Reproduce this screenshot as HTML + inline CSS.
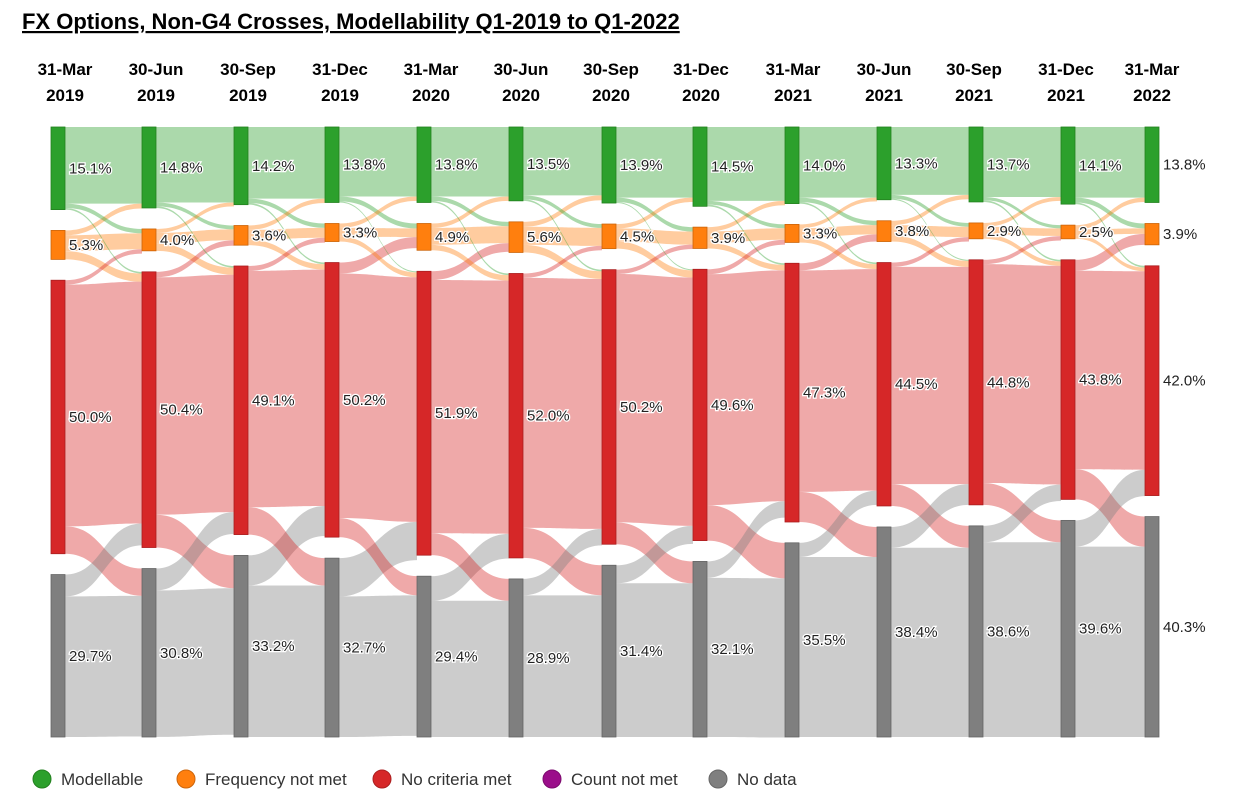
<!DOCTYPE html>
<html><head><meta charset="utf-8"><style>
body{margin:0;background:#fff;width:1250px;height:808px;overflow:hidden;font-family:"Liberation Sans",sans-serif}
svg{display:block}
</style></head><body>
<svg id="chart" width="1250" height="808" viewBox="0 0 1250 808">
<text x="22" y="29" font-size="22" font-weight="bold" fill="#000" text-decoration="underline">FX Options, Non-G4 Crosses, Modellability Q1-2019 to Q1-2022</text>
<g id="heads"></g><g id="links"></g><g id="nodes"></g><g id="labels"></g><g id="legend"></g>
</svg>
<script>
const dates=["31-Mar","30-Jun","30-Sep","31-Dec","31-Mar","30-Jun","30-Sep","31-Dec","31-Mar","30-Jun","30-Sep","31-Dec","31-Mar"];
const years=["2019","2019","2019","2019","2020","2020","2020","2020","2021","2021","2021","2021","2022"];
const modellable=[15.1,14.8,14.2,13.8,13.8,13.5,13.9,14.5,14.0,13.3,13.7,14.1,13.8];
const freqNotMet=[5.3,4.0,3.6,3.3,4.9,5.6,4.5,3.9,3.3,3.8,2.9,2.5,3.9];
const noCriteria=[50.0,50.4,49.1,50.2,51.9,52.0,50.2,49.6,47.3,44.5,44.8,43.8,42.0];
const countNotMet=[0,0,0,0,0,0,0,0,0,0,0,0,0];
const noData=[29.7,30.8,33.2,32.7,29.4,28.9,31.4,32.1,35.5,38.4,38.6,39.6,40.3];
// cross flows per period (%)
const redToGrey=[5,6,5,3.5,4,5.5,4,6.5,5.5,4,4,5.5];
const greyToRed=[4,4,5.5,7,4.5,3,3.3,3,2.6,3.8,3,4.8];
const greenToOrange=[0.8,0.7,0.8,0.9,0.8,0.7,0.8,0.7,0.8,0.7,0.6,0.9];
const orangeToGreen=[0.9,0.7,0.8,0.8,0.8,0.9,0.8,0.8,0.7,0.8,0.7,0.8];
const orangeToRed=[1.5,1.3,1.0,0.9,1.0,1.4,1.3,1.0,0.9,1.1,0.8,0.7];
const redToOrange=[0.8,1.0,0.9,2.0,1.6,0.8,0.8,0.9,1.3,0.8,0.8,2.0];
const greenToRed=[0.3,0.3,0.3,0.2,0.3,0.3,0.2,0.3,0.3,0.2,0.3,0.3];

const series=[modellable,freqNotMet,noCriteria,countNotMet,noData];
const nodeCol=["#2ca02c","#ff7f0e","#d62728","#9b0e8a","#7f7f7f"];
const nodeStroke=["#23801f","#cc650b","#ab1f20","#7c0b6e","#666"];
const linkCol=["rgba(44,160,44,0.4)","rgba(255,127,14,0.4)","rgba(214,39,40,0.4)","rgba(155,14,138,0.4)","rgba(127,127,127,0.4)"];
const colX=[51,142,234,325,417,509,602,693,785,877,969,1061,1145];
const headX=[65,156,248,340,431,521,611,701,793,884,974,1066,1152];
const topY=127,bottomY=737,nodeW=14,scale=5.47;
const ns="http://www.w3.org/2000/svg";
function mk(t,a,p){const e=document.createElementNS(ns,t);for(const k in a)e.setAttribute(k,a[k]);p.appendChild(e);return e;}
const yv=v=>v*scale;

const nodeY=[];
for(let c=0;c<dates.length;c++){
  const vals=series.map(s=>s[c]);
  const present=vals.filter(v=>v>0).length;
  const sum=vals.reduce((a,b)=>a+b,0);
  const gap=(bottomY-topY-yv(sum))/(present-1);
  let y=topY;const arr=[];
  for(let k=0;k<5;k++){arr.push(y);if(vals[k]>0)y+=yv(vals[k])+gap;}
  nodeY.push(arr);
}

const hg=document.getElementById('heads');
for(let c=0;c<dates.length;c++){
  const t=mk('text',{x:headX[c],y:75,'text-anchor':'middle','font-size':17,'font-weight':'bold'},hg);
  
  
  t.textContent=dates[c];
  const t2=mk('text',{x:headX[c],y:101,'text-anchor':'middle','font-size':17,'font-weight':'bold'},hg);
  
  
  t2.textContent=years[c];
}

const lg=document.getElementById('links');
for(let p=0;p<dates.length-1;p++){
  const cross=[[0,1,greenToOrange[p]],[0,2,greenToRed[p]],[1,0,orangeToGreen[p]],[1,2,orangeToRed[p]],[2,1,redToOrange[p]],[2,4,redToGrey[p]],[4,2,greyToRed[p]]];
  const flows=[];
  for(let k=0;k<5;k++){
    const out=cross.filter(f=>f[0]===k).reduce((a,f)=>a+f[2],0);
    const stay=series[k][p]-out;
    if(stay>0)flows.push([k,k,stay]);
  }
  cross.forEach(f=>{if(f[2]>0)flows.push(f);});
  const srcOff=[0,0,0,0,0],tgtOff=[0,0,0,0,0];
  const bySrc=flows.slice().sort((a,b)=>a[0]-b[0]||a[1]-b[1]);
  const s0={};bySrc.forEach(f=>{s0[f.join()]=nodeY[p][f[0]]+srcOff[f[0]];srcOff[f[0]]+=yv(f[2]);});
  const byTgt=flows.slice().sort((a,b)=>a[1]-b[1]||a[0]-b[0]);
  const t0={};byTgt.forEach(f=>{t0[f.join()]=nodeY[p+1][f[1]]+tgtOff[f[1]];tgtOff[f[1]]+=yv(f[2]);});
  const x0=colX[p]+nodeW,x1=colX[p+1],xm=(x0+x1)/2;
  flows.sort((a,b)=>b[2]-a[2]).forEach(f=>{
    const a=s0[f.join()],b=t0[f.join()],h=yv(f[2]);
    const d=`M${x0},${a}C${xm},${a} ${xm},${b} ${x1},${b}L${x1},${b+h}C${xm},${b+h} ${xm},${a+h} ${x0},${a+h}Z`;
    const e=mk('path',{d:d,fill:linkCol[f[0]]},lg);
    
    
  });
}

const ng=document.getElementById('nodes'),lb=document.getElementById('labels');
for(let c=0;c<dates.length;c++){
  for(let k=0;k<5;k++){
    const v=series[k][c];if(!(v>0))continue;
    const y=nodeY[c][k],h=yv(v);
    const r=mk('rect',{x:colX[c],y:y,width:nodeW,height:h,fill:nodeCol[k],stroke:nodeStroke[k],'stroke-width':0.8},ng);
    
    
    const t=mk('text',{x:colX[c]+nodeW+4,y:y+h/2+5,'font-size':15,fill:'#222',stroke:'#fff','stroke-width':2.5,'paint-order':'stroke'},lb);
    
    
    t.textContent=v.toFixed(1)+'%';
  }
}

const legNames=["Modellable","Frequency not met","No criteria met","Count not met","No data"];
const legX=[42,186,382,552,718];
const leg=document.getElementById('legend');
for(let k=0;k<5;k++){
  const g=mk('g',{},leg);
  
  
  mk('circle',{cx:legX[k],cy:779,r:9,fill:nodeCol[k],stroke:nodeStroke[k],'stroke-width':1},g);
  const t=mk('text',{x:legX[k]+19,y:785,'font-size':17,fill:'#333'},g);
  t.textContent=legNames[k];
}
</script>
</body></html>
